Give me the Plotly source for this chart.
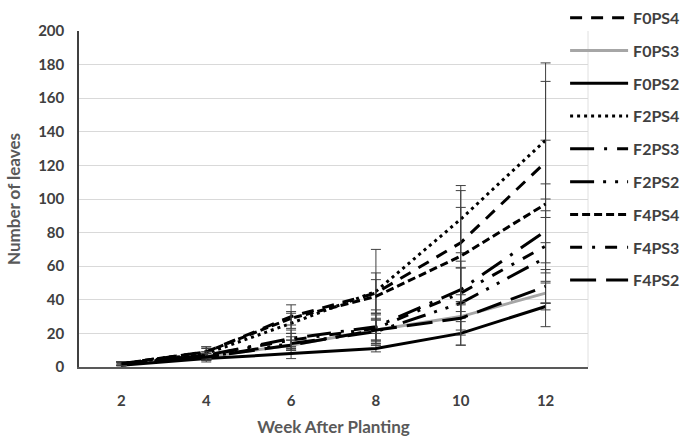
import plotly.graph_objects as go

weeks = [2, 4, 6, 8, 10, 12]
series_names = ["F0PS4", "F0PS3", "F0PS2", "F2PS4", "F2PS3", "F2PS2", "F4PS4", "F4PS3", "F4PS2"]

F0PS4 = [2, 9, 30, 44, 74, 122]
F0PS3 = [2, 6, 13, 22, 30, 44]
F0PS2 = [1, 5, 8, 11, 20, 36]
F2PS4 = [2, 8, 26, 45, 88, 135]
F2PS3 = [2, 7, 17, 24, 46, 81]
F2PS2 = [2, 6, 14, 21, 38, 65]
F4PS4 = [2, 9, 29, 42, 66, 97]
F4PS3 = [2, 7, 16, 23, 44, 72]
F4PS2 = [2, 6, 13, 22, 29, 48]

F0PS4_err = [1, 3, 7, 12, 31, 13]
F0PS3_err = [1, 2, 3, 6, 8, 6]
F0PS2_err = [1, 2, 3, 2, 7, 2]
F2PS4_err = [1, 3, 6, 25, 20, 46]
F2PS3_err = [1, 2, 5, 10, 13, 19]
F2PS2_err = [1, 2, 4, 8, 25, 9]
F4PS4_err = [1, 3, 4, 10, 29, 73]
F4PS3_err = [1, 2, 4, 8, 15, 21]
F4PS2_err = [1, 2, 3, 6, 10, 10]

values = [F0PS4, F0PS3, F0PS2, F2PS4, F2PS3, F2PS2, F4PS4, F4PS3, F4PS2]
errors = [F0PS4_err, F0PS3_err, F0PS2_err, F2PS4_err, F2PS3_err, F2PS2_err, F4PS4_err, F4PS3_err, F4PS2_err]

styles = [
    ("#000000", "12px,9px"),
    ("#a6a6a6", "solid"),
    ("#000000", "solid"),
    ("#000000", "3px,4px"),
    ("#000000", "24px,10px,3px,10px"),
    ("#000000", "24px,9px,3px,9px,3px,9px"),
    ("#000000", "8px,4px"),
    ("#000000", "12px,10px,3px,10px"),
    ("#000000", "26px,10px"),
]

fig = go.Figure()
for name, vals, err, (col, dash) in zip(series_names, values, errors, styles):
    fig.add_trace(go.Scatter(
        x=weeks, y=vals, name=name, mode="lines", legendgroup=name,
        line=dict(color=col, width=3, dash=dash),
        error_y=dict(type="data", array=err, visible=True, color="#404040", thickness=1, width=5),
    ))

font_family = "Lato, 'Open Sans', sans-serif"
fig.update_layout(
    width=685, height=441,
    margin=dict(l=79, r=97, t=31, b=74, autoexpand=False),
    paper_bgcolor="white", plot_bgcolor="white",
    font=dict(family=font_family, color="#404040"),
    showlegend=True,
    legend=dict(
        x=0.955, y=1.09, xanchor="left", yanchor="top",
        bgcolor="rgba(0,0,0,0)", tracegroupgap=9, maxheight=440,
        font=dict(size=16, color="#404040", family=font_family, weight="bold"),
        itemwidth=58,
    ),
    xaxis=dict(
        range=[1, 13], tickvals=weeks, ticktext=[str(w) for w in weeks],
        showgrid=False, zeroline=False, showline=True, linecolor="#595959", linewidth=1.5,
        ticks="", ticklabelstandoff=19,
        tickfont=dict(size=15, color="#404040", weight="bold"),
        title=dict(text="Week After Planting", font=dict(size=17, color="#595959", weight="bold"), standoff=13),
    ),
    yaxis=dict(
        range=[0, 200], dtick=20, tick0=0,
        showgrid=True, gridcolor="#d9d9d9", gridwidth=1, zeroline=False,
        showline=True, linecolor="#404040", linewidth=1.5,
        ticks="", ticklabelstandoff=10,
        tickfont=dict(size=15, color="#404040", weight="bold"),
        title=dict(text="Number of leaves", font=dict(size=17, color="#595959", weight="bold"), standoff=13),
    ),
)
fig.add_shape(type="line", xref="paper", yref="paper", x0=1, x1=1, y0=0, y1=1,
              line=dict(color="#e0e0e0", width=1), layer="below")

fig.write_html("out.html")
